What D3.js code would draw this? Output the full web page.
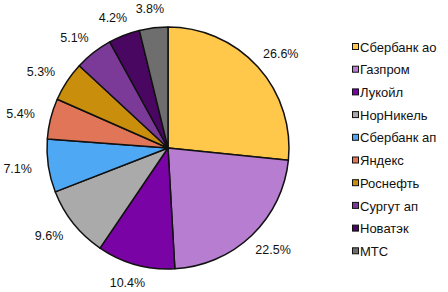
<!DOCTYPE html>
<html>
<head>
<meta charset="utf-8">
<script src="https://cdn.jsdelivr.net/npm/d3@7"></script>
<style>
  html, body { margin: 0; padding: 0; background: #fff; }
  svg { display: block; font-family: "Liberation Sans", Arial, sans-serif; }
</style>
</head>
<body>
<div id="chart"></div>
<script>
const width = 448;
const height = 292;

const names = ["Сбербанк ао", "Газпром", "Лукойл", "НорНикель", "Сбербанк ап",
               "Яндекс", "Роснефть", "Сургут ап", "Новатэк", "МТС"];
const shares = [26.6, 22.5, 10.4, 9.6, 7.1, 5.4, 5.3, 5.1, 4.2, 3.8];
const sliceColors = ["#ffc84b", "#b77dd0", "#7a03a6", "#aaaaaa", "#4fa8f3",
                     "#e07558", "#c98f0c", "#7c3a98", "#4a0762", "#6e6e6e"];

const data = names.map((n, i) => ({ name: n, value: shares[i] }));

const cx = 168, cy = 148, r = 121;

const color = d3.scaleOrdinal().domain(names).range(sliceColors);

const pie = d3.pie().sort(null).value(d => d.value);
const arc = d3.arc().innerRadius(0).outerRadius(r);
const arcs = pie(data);

const svg = d3.select("#chart").append("svg")
    .attr("width", width)
    .attr("height", height);

const g = svg.append("g").attr("transform", `translate(${cx},${cy})`);

g.selectAll("path")
  .data(arcs)
  .enter()
  .append("path")
  .attr("d", arc)
  .attr("fill", d => color(d.data.name))
  .attr("stroke", "#111")
  .attr("stroke-width", 1.5)
  .attr("stroke-linejoin", "round");

// labels sit on an ellipse round the pie (text is wider than tall)
const rx = 152, ry = 140;
g.selectAll("text.pct")
  .data(arcs)
  .enter()
  .append("text")
  .attr("class", "pct")
  .attr("x", d => rx * Math.sin((d.startAngle + d.endAngle) / 2))
  .attr("y", d => -ry * Math.cos((d.startAngle + d.endAngle) / 2))
  .attr("dy", "0.35em")
  .attr("text-anchor", "middle")
  .style("font-size", "12.5px")
  .style("fill", "#111")
  .text(d => d.data.value.toFixed(1) + "%");

// legend
const legend = svg.append("g").attr("transform", "translate(352,47)");
const row = 22.7;

const item = legend.selectAll("g")
  .data(names)
  .enter()
  .append("g")
  .attr("transform", (d, i) => `translate(0,${i * row})`);

item.append("rect")
  .attr("x", 0.5)
  .attr("y", -3.5)
  .attr("width", 6)
  .attr("height", 6)
  .attr("fill", d => color(d))
  .attr("stroke", "#111")
  .attr("stroke-width", 1);

item.append("text")
  .attr("x", 8)
  .attr("dy", "0.36em")
  .style("font-size", "13px")
  .style("fill", "#111")
  .text(d => d);
</script>
</body>
</html>
